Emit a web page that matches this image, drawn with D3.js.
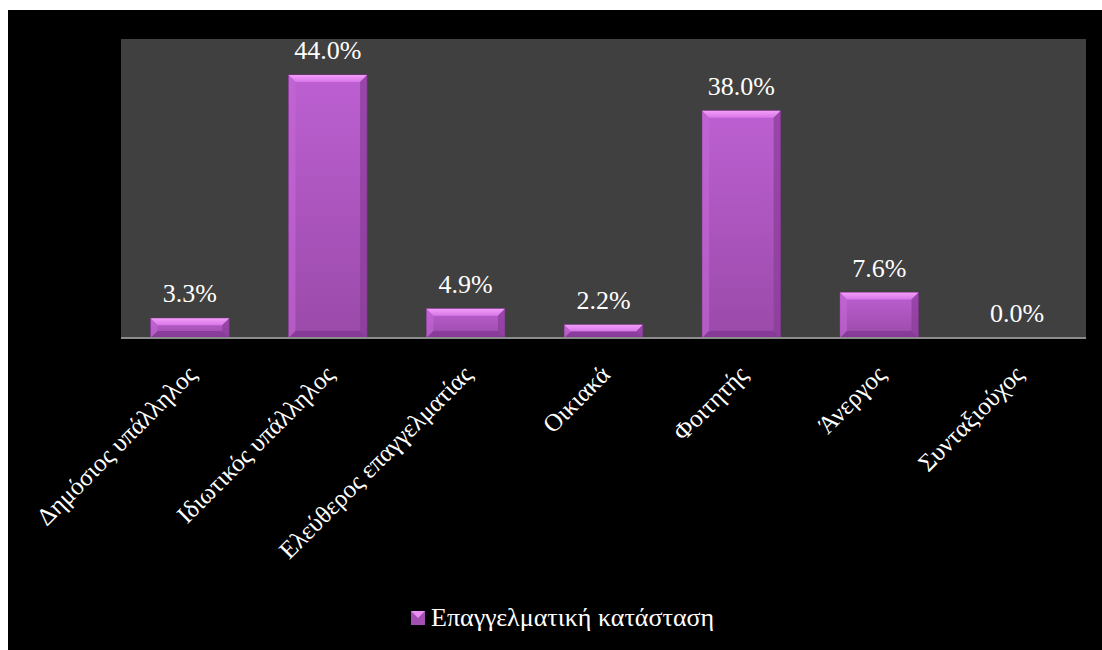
<!DOCTYPE html>
<html><head><meta charset="utf-8">
<script src="https://cdn.jsdelivr.net/npm/d3@7"></script>
<style>html,body{margin:0;padding:0;background:#fff;}svg{display:block;} text{font-family:"Liberation Serif";}</style>
</head><body>
<script>
const categories = ["Δημόσιος υπάλληλος","Ιδιωτικός υπάλληλος","Ελεύθερος επαγγελματίας","Οικιακά","Φοιτητής","Άνεργος","Συνταξιούχος"];
const values = [3.3, 44.0, 4.9, 2.2, 38.0, 7.6, 0.0];
const seriesName = "Επαγγελματική κατάσταση";
const yDomain = [0, 50];

const FONT = '"Liberation Serif"';
const W = 1102, H = 650;
const svg = d3.select("body").append("svg").attr("width", W).attr("height", H);
const defs = svg.append("defs");
const g1 = defs.append("linearGradient").attr("id","barG").attr("x1",0).attr("y1",0).attr("x2",0).attr("y2",1);
g1.append("stop").attr("offset","0%").attr("stop-color","#bd60d2");
g1.append("stop").attr("offset","100%").attr("stop-color","#9a4aa9");
const g2 = defs.append("linearGradient").attr("id","topG").attr("x1",0).attr("y1",0).attr("x2",0).attr("y2",1);
g2.append("stop").attr("offset","0%").attr("stop-color","#f39cf9");
g2.append("stop").attr("offset","100%").attr("stop-color","#d877e8");

svg.append("rect").attr("x",8).attr("y",10).attr("width",W-8).attr("height",H-10).attr("fill","#000");

const plot = {x0:121, x1:1086, y0:39, y1:338};
svg.append("rect").attr("x",plot.x0).attr("y",plot.y0).attr("width",plot.x1-plot.x0).attr("height",plot.y1-plot.y0).attr("fill","#404040");

const x = d3.scaleBand().domain(categories).range([plot.x0, plot.x1]).paddingInner(0.43).paddingOuter(0.215);
const y = d3.scaleLinear().domain(yDomain).range([plot.y1, plot.y0]);

const data = categories.map((c,i)=>({c, v:values[i]}));
const bars = svg.append("g").selectAll("g").data(data.filter(d=>d.v>0)).join("g");
const bw = x.bandwidth();
bars.append("rect").attr("x",d=>x(d.c)).attr("y",d=>y(d.v)).attr("width",bw).attr("height",d=>y(0)-y(d.v)).attr("fill","url(#barG)").attr("stroke","#6e2f7a").attr("stroke-width",0.8);
const bev = 7;
bars.append("path").attr("d",d=>{const x0=x(d.c),x1=x0+bw,t=y(d.v),b=Math.min(bev,(y(0)-t)/2);return `M${x0},${t}L${x1},${t}L${x1-b},${t+b}L${x0+b},${t+b}Z`;}).attr("fill","url(#topG)");
bars.append("path").attr("d",d=>{const x0=x(d.c),t=y(d.v),bt=y(0),b=Math.min(bev,(bt-t)/2);return `M${x0},${t}L${x0+b},${t+b}L${x0+b},${bt-b}L${x0},${bt}Z`;}).attr("fill","#c468d6").attr("opacity",0.6);
bars.append("path").attr("d",d=>{const x1=x(d.c)+bw,t=y(d.v),bt=y(0),b=Math.min(bev,(bt-t)/2);return `M${x1},${t}L${x1},${bt}L${x1-b},${bt-b}L${x1-b},${t+b}Z`;}).attr("fill","#8a3c98").attr("opacity",0.7);
bars.append("path").attr("d",d=>{const x0=x(d.c),x1=x0+bw,t=y(d.v),bt=y(0),b=Math.min(bev,(bt-t)/2);return `M${x0},${bt}L${x0+b},${bt-b}L${x1-b},${bt-b}L${x1},${bt}Z`;}).attr("fill","#7f3590").attr("opacity",0.7);

svg.append("line").attr("x1",plot.x0).attr("x2",plot.x1).attr("y1",y(0)).attr("y2",y(0)).attr("stroke","#8c8c8c").attr("stroke-width",2);

svg.append("g").selectAll("text").data(data).join("text")
  .attr("x",d=>x(d.c)+bw/2).attr("y",d=>y(d.v)-16)
  .attr("text-anchor","middle").attr("fill","#fff")
  .style("font-family",FONT).style("font-size","26px")
  .text(d=>d.v.toFixed(1)+"%");

svg.append("g").selectAll("text").data(categories).join("text")
  .attr("transform",d=>`translate(${x(d)+bw/2+8},${y(0)+38}) rotate(-45)`)
  .attr("text-anchor","end").attr("fill","#fff")
  .style("font-family",FONT).style("font-size","25px")
  .text(d=>d);

const lg = svg.append("g").attr("transform","translate(411,611)");
lg.append("rect").attr("width",14).attr("height",14).attr("fill","#a14fb3");
lg.append("path").attr("d","M0,0L14,0L7,7Z").attr("fill","#e98ff3");
lg.append("text").attr("x",20).attr("y",15).attr("fill","#fff")
  .style("font-family",FONT).style("font-size","26px")
  .text(seriesName);
</script>
</body></html>
